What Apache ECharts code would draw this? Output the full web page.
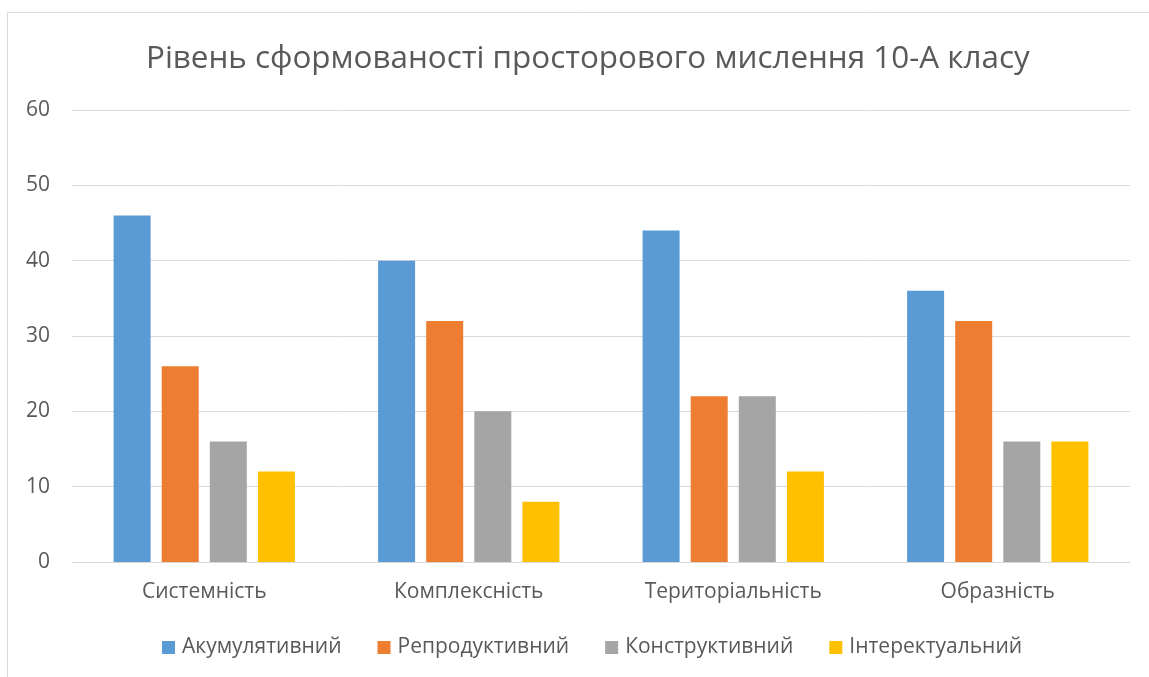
<!DOCTYPE html>
<html><head><meta charset="utf-8">
<script src="https://cdn.jsdelivr.net/npm/echarts@6/dist/echarts.min.js"></script>
<style>html,body{margin:0;padding:0;background:#fff}#c{width:1149px;height:677px}</style>
</head><body><div id="c"></div>
<script>
const categories = ['Системність', 'Комплексність', 'Територіальність', 'Образність'];
const seriesNames = ['Акумулятивний', 'Репродуктивний', 'Конструктивний', 'Інтеректуальний'];
const akum = [46, 40, 44, 36];
const repr = [26, 32, 22, 32];
const konstr = [16, 20, 22, 16];
const inter = [12, 8, 12, 16];
const colors = ['#5B9BD5', '#ED7D31', '#A5A5A5', '#FFC000'];
const yTicks = [0, 10, 20, 30, 40, 50, 60];

const FONT = 'Open Sans';
const chart = echarts.init(document.getElementById('c'));
const values = [akum, repr, konstr, inter];
chart.setOption({
  animation: false,
  color: colors,
  title: {
    text: 'Рівень сформованості просторового мислення 10-А класу',
    left: 141, top: 39,
    textStyle: {fontFamily: FONT, fontSize: 31.4, fontWeight: 'normal', color: '#595959'}
  },
  graphic: [{type: 'rect', shape: {x: 7.5, y: 12.5, width: 1200, height: 700},
    style: {fill: 'none', stroke: '#D9D9D9', lineWidth: 1}, silent: true}],
  legend: {
    bottom: 14, left: 157, itemWidth: 13, itemHeight: 13, itemGap: 36,
    icon: 'rect',
    textStyle: {fontFamily: FONT, fontSize: 21, color: '#595959', padding: [0, 0, 0, 2]},
    data: seriesNames
  },
  grid: {left: 72, right: 19, top: 110, bottom: 115, containLabel: false},
  xAxis: {
    type: 'category', data: categories,
    axisLine: {lineStyle: {color: '#D9D9D9', width: 1}},
    axisTick: {show: false},
    axisLabel: {fontFamily: FONT, fontSize: 21, color: '#595959', margin: 20}
  },
  yAxis: {
    type: 'value', min: yTicks[0], max: yTicks[yTicks.length - 1], interval: 10,
    axisLine: {show: false}, axisTick: {show: false},
    splitLine: {lineStyle: {color: '#D9D9D9', width: 1}},
    axisLabel: {fontFamily: FONT, fontSize: 21, color: '#595959', margin: 22}
  },
  series: seriesNames.map((n, i) => ({
    name: n, type: 'bar', data: values[i], barWidth: 37, barGap: '30%',
    itemStyle: {color: colors[i]}
  }))
});
</script></body></html>
